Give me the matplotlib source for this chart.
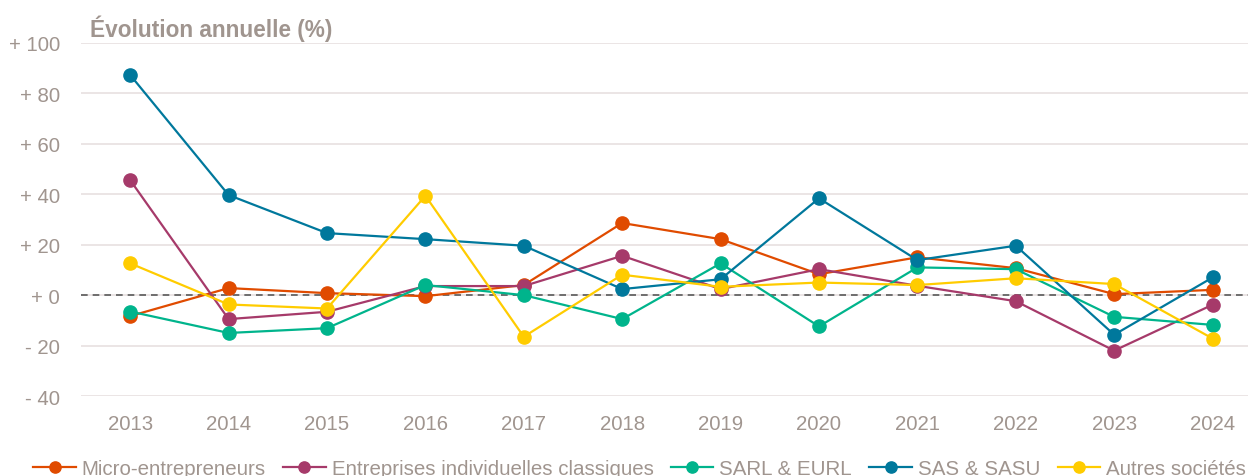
import numpy as np
import matplotlib.pyplot as plt

plt.rcParams['font.family'] = ['Liberation Sans', 'DejaVu Sans']

years = list(range(2013, 2025))
micro = [-8.3, 2.8, 0.8, -0.4, 4.0, 28.6, 22.2, 8.3, 15.0, 10.7, 0.4, 2.1]
ei_classiques = [45.6, -9.5, -6.6, 3.6, 3.6, 15.6, 2.4, 10.3, 3.7, -2.4, -22.0, -3.8]
sarl_eurl = [-6.5, -15.0, -13.1, 4.0, 0.0, -9.5, 12.6, -12.4, 11.0, 10.3, -8.6, -11.8]
sas_sasu = [87.3, 39.7, 24.6, 22.2, 19.6, 2.4, 6.3, 38.4, 13.9, 19.6, -15.7, 7.0]
autres = [12.6, -3.7, -5.3, 39.4, -16.5, 8.1, 3.3, 5.0, 4.0, 6.7, 4.4, -17.2]

series = [
    ("Micro-entrepreneurs", micro, "#E04B00"),
    ("Entreprises individuelles classiques", ei_classiques, "#A63A6A"),
    ("SARL & EURL", sarl_eurl, "#00B48C"),
    ("SAS & SASU", sas_sasu, "#00789C"),
    ("Autres sociétés", autres, "#FFCC00"),
]
yticks = [-40, -20, 0, 20, 40, 60, 80, 100]
ytick_labels = ["- 40", "- 20", "+ 0", "+ 20", "+ 40", "+ 60", "+ 80", "+ 100"]

txt = "#A0958F"

fig = plt.figure(figsize=(12.48, 4.77), dpi=100)
ax = fig.add_axes([0.0649, 0.1677, 0.9351, 0.7401])

for name, vals, col in series:
    ax.plot(years, vals, color=col, lw=1.6, marker='o', ms=9.5, label=name, zorder=3)

ax.axhline(0, color='#595959', lw=1.2, ls=(0, (4, 3)), zorder=2)

ax.set_ylim(-40, 100)
ax.set_xlim(2012.5, 2024.36)
ax.set_yticks(yticks)
ax.set_yticklabels(ytick_labels)
ax.set_xticks(years)
ax.grid(axis='y', color='#E8E0E0', lw=1.2, zorder=0)
ax.set_axisbelow(True)
for s in ax.spines.values():
    s.set_visible(False)
ax.tick_params(length=0, labelsize=14.7, colors=txt)
ax.tick_params(axis='x', pad=13)
ax.tick_params(axis='y', pad=15)

fig.text(0.072, 0.94, "Évolution annuelle (%)", fontsize=16.3, fontweight='bold',
         color=txt, va='center', ha='left')

leg = fig.legend(loc='lower left', bbox_to_anchor=(0.012, -0.043), ncol=5, frameon=False,
                 fontsize=14.8, handlelength=2.05, handletextpad=0.3, columnspacing=0.85,
                 markerscale=0.85)
for t in leg.get_texts():
    t.set_color(txt)

fig.savefig("out.png", dpi=100)
